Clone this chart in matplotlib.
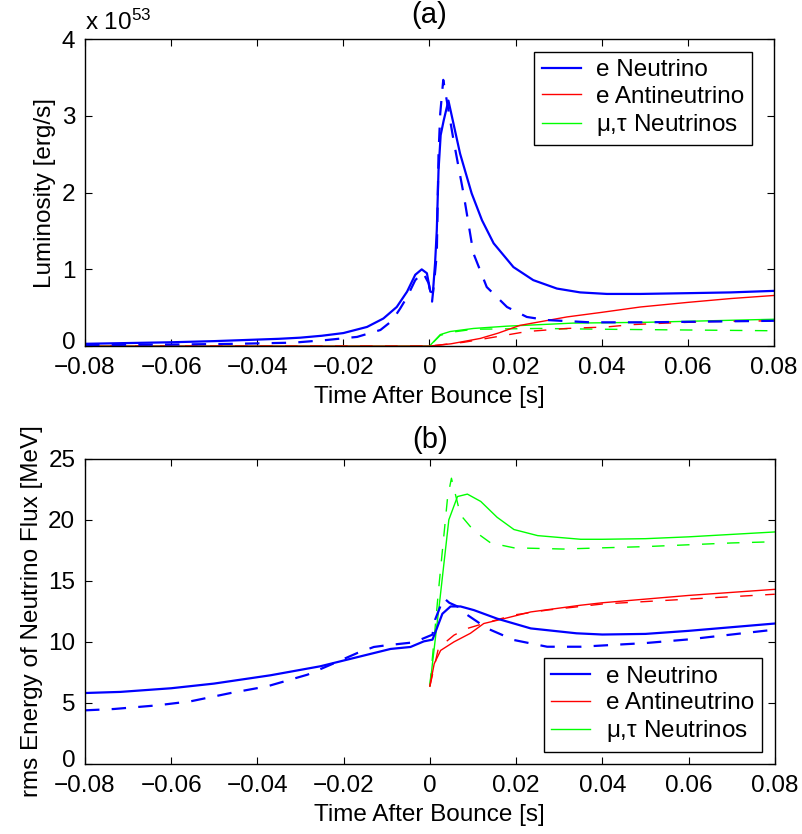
import numpy as np
import matplotlib
matplotlib.use('Agg')
import matplotlib.pyplot as plt
import matplotlib.transforms as mtransforms
from matplotlib.lines import Line2D

plt.rcParams['font.family'] = ['Liberation Sans', 'DejaVu Sans']
plt.rcParams['font.size'] = 17.5
plt.rcParams['mathtext.fontset'] = 'custom'
plt.rcParams['mathtext.rm'] = 'Liberation Sans'
plt.rcParams['mathtext.it'] = 'Liberation Sans'

# ---- panel (a): luminosity, units of 1e53 erg/s ----
ta_nue = [-0.08, -0.07, -0.06, -0.05, -0.04, -0.035, -0.03, -0.025, -0.020, -0.0145,
          -0.0107, -0.0076, -0.0052, -0.0033, -0.0018, -0.0006, 0.0002, 0.0008, 0.0013,
          0.0017, 0.0021, 0.0026, 0.0033, 0.0044, 0.0071, 0.0098, 0.0122, 0.0149, 0.0195,
          0.0241, 0.0296, 0.035, 0.0412, 0.049, 0.06, 0.07, 0.08]
la_nue = [0.03, 0.04, 0.05, 0.065, 0.085, 0.095, 0.11, 0.135, 0.17, 0.25,
          0.36, 0.51, 0.71, 0.93, 1.0, 0.95, 0.71, 0.70, 1.08,
          1.51, 2.29, 2.75, 2.94, 3.2, 2.51, 1.99, 1.64, 1.34, 1.03,
          0.86, 0.75, 0.70, 0.68, 0.68, 0.69, 0.70, 0.72]
ta_nue_d = [-0.08, -0.06, -0.045, -0.0316, -0.0238, -0.0168, -0.0114, -0.0087, -0.0068,
            -0.0052, -0.0033, -0.0015, -0.0002, 0.0006, 0.0012, 0.0017, 0.0021, 0.0025,
            0.0032, 0.0056, 0.0079, 0.0102, 0.0133, 0.018, 0.0226, 0.0272, 0.0373, 0.05,
            0.065, 0.08]
la_nue_d = [0.015, 0.02, 0.03, 0.045, 0.08, 0.12, 0.21, 0.33, 0.49,
            0.64, 0.86, 0.96, 0.82, 0.58, 0.9, 1.2, 2.5, 3.03,
            3.47, 2.68, 1.99, 1.21, 0.77, 0.51, 0.38, 0.34, 0.31, 0.31,
            0.32, 0.33]
ta_nueb = [-0.08, 0.0, 0.005, 0.0118, 0.016, 0.021, 0.0319, 0.04, 0.049, 0.06, 0.07, 0.08]
la_nueb = [0.0, 0.0, 0.03, 0.10, 0.17, 0.27, 0.38, 0.44, 0.51, 0.57, 0.62, 0.66]
ta_nueb_d = [-0.08, 0.0, 0.008, 0.0164, 0.0226, 0.0319, 0.0412, 0.047, 0.055, 0.065, 0.08]
la_nueb_d = [0.0, 0.0, 0.05, 0.13, 0.19, 0.23, 0.25, 0.28, 0.30, 0.32, 0.33]
ta_nux = [-0.08, 0.0, 0.0025, 0.0048, 0.0102, 0.018, 0.0334, 0.05, 0.065, 0.08]
la_nux = [0.0, 0.0, 0.15, 0.19, 0.23, 0.26, 0.30, 0.31, 0.33, 0.35]
ta_nux_d = [-0.08, 0.0, 0.0025, 0.005, 0.0102, 0.0257, 0.04, 0.06, 0.08]
la_nux_d = [0.0, 0.0, 0.14, 0.18, 0.22, 0.23, 0.22, 0.21, 0.20]

# ---- panel (b): rms energy [MeV] ----
tb_nue = [-0.08, -0.0718, -0.06, -0.0501, -0.037, -0.0254, -0.0192, -0.0091, -0.0045,
          -0.0014, 0.0006, 0.0015, 0.0029, 0.0048, 0.0071, 0.0102, 0.0156, 0.0234, 0.034,
          0.04, 0.05, 0.06, 0.07, 0.08]
eb_nue = [5.81, 5.9, 6.2, 6.58, 7.26, 8.0, 8.54, 9.42, 9.58,
          10.04, 10.18, 11.0, 12.3, 12.9, 12.9, 12.6, 11.9, 11.1, 10.7,
          10.6, 10.65, 10.9, 11.2, 11.5]
tb_nue_d = [-0.08, -0.0733, -0.0632, -0.0555, -0.0462, -0.0377, -0.0284, -0.023, -0.0168,
            -0.013, -0.0105, -0.0037, 0.0006, 0.0012, 0.0032, 0.0045, 0.0067, 0.0087,
            0.0133, 0.0195, 0.0272, 0.035, 0.04, 0.05, 0.06, 0.07, 0.08]
eb_nue_d = [4.39, 4.5, 4.8, 5.13, 5.81, 6.36, 7.31, 8.13, 9.09,
            9.58, 9.7, 9.96, 10.59, 11.8, 13.6, 13.2, 12.85, 12.2,
            11.1, 10.15, 9.6, 9.6, 9.7, 9.9, 10.2, 10.6, 11.0]
tb_nueb = [0.0, 0.001, 0.0025, 0.0056, 0.0094, 0.0125, 0.0172, 0.0234, 0.035, 0.04,
           0.05, 0.06, 0.07, 0.08]
eb_nueb = [6.36, 8.2, 9.3, 10.0, 10.7, 11.5, 11.9, 12.45, 13.0, 13.2,
           13.5, 13.8, 14.05, 14.3]
tb_nueb_d = [0.0, 0.002, 0.0056, 0.0087, 0.0125, 0.0195, 0.0272, 0.035, 0.04, 0.05,
             0.06, 0.07, 0.08]
eb_nueb_d = [6.36, 9.5, 10.55, 11.1, 11.5, 12.2, 12.6, 12.9, 13.1, 13.3,
             13.5, 13.7, 13.9]
tb_nux = [0.0, 0.0024, 0.0044, 0.0064, 0.0087, 0.0118, 0.0156, 0.0195, 0.025, 0.035,
          0.04, 0.05, 0.06, 0.07, 0.08]
eb_nux = [6.4, 13.7, 20.0, 21.9, 22.1, 21.5, 20.2, 19.2, 18.7, 18.4,
          18.4, 18.45, 18.6, 18.8, 19.0]
tb_nux_d = [0.0, 0.002, 0.0041, 0.005, 0.0071, 0.0102, 0.0141, 0.0195, 0.031, 0.04,
            0.05, 0.06, 0.07, 0.08]
eb_nux_d = [6.4, 14.2, 21.8, 23.4, 20.4, 19.1, 18.1, 17.7, 17.6, 17.7,
            17.8, 17.95, 18.1, 18.2]

labels = ['e Neutrino', 'e Antineutrino', r'$\mu$,$\tau$ Neutrinos']
colors = ['#0000ff', '#ff0000', '#00ff00']
widths = [1.6, 1.0, 1.0]
dashes = [(0, (6.5, 5.5)), (0, (9, 9)), (0, (9, 9))]

fig = plt.figure(figsize=(8.02, 8.34), dpi=100)
ax1 = fig.add_axes([0.106, 0.585, 0.859, 0.368])
ax2 = fig.add_axes([0.106, 0.084, 0.860, 0.366])

series_a = [(ta_nue, la_nue, ta_nue_d, la_nue_d),
            (ta_nueb, la_nueb, ta_nueb_d, la_nueb_d),
            (ta_nux, la_nux, ta_nux_d, la_nux_d)]
series_b = [(tb_nue, eb_nue, tb_nue_d, eb_nue_d),
            (tb_nueb, eb_nueb, tb_nueb_d, eb_nueb_d),
            (tb_nux, eb_nux, tb_nux_d, eb_nux_d)]

# draw green, red first so blue sits on top
for ax, series in [(ax1, series_a), (ax2, series_b)]:
    for i in [2, 1, 0]:
        t, v, td, vd = series[i]
        ax.plot(t, v, color=colors[i], lw=widths[i])
        ax.plot(td, vd, color=colors[i], lw=widths[i], ls=dashes[i])

handles = [Line2D([], [], color=colors[i], lw=widths[i]) for i in range(3)]
leg_kw = dict(fancybox=False, edgecolor='black', framealpha=1, handlelength=1.6,
              borderpad=0.3, labelspacing=0.18, handletextpad=0.65, borderaxespad=0)

ax1.set_xlim(-0.08, 0.08)
ax1.set_ylim(0, 4)
ax1.set_yticks([0, 1, 2, 3, 4])
ax1.set_title('(a)', pad=12)
ax1.set_ylabel('Luminosity [erg/s]')
ax1.set_xlabel('Time After Bounce [s]', labelpad=5)
ax1.text(0.0, 1.015, r'x 10$^{53}$', transform=ax1.transAxes,
         ha='left', va='bottom')
ax1.legend(handles, labels, loc='upper right', bbox_to_anchor=(0.968, 0.958), **leg_kw)

ax2.set_xlim(-0.08, 0.08)
ax2.set_ylim(0, 25)
ax2.set_yticks([0, 5, 10, 15, 20, 25])
ax2.set_title('(b)', pad=8)
ax2.set_ylabel('rms Energy of Neutrino Flux [MeV]')
ax2.set_xlabel('Time After Bounce [s]', labelpad=5)
ax2.legend(handles, labels, loc='lower right', bbox_to_anchor=(0.981, 0.04), **leg_kw)

for ax in [ax1, ax2]:
    ax.set_xticks(np.arange(-0.08, 0.081, 0.02))
    ax.set_xticklabels(['\u22120.08', '\u22120.06', '\u22120.04', '\u22120.02', '0',
                        '0.02', '0.04', '0.06', '0.08'])
    ax.tick_params(direction='in', top=True, right=True, length=5, width=0.8)
    ax.tick_params(axis='x', pad=8)
    ax.tick_params(axis='y', pad=7)
    for s in ax.spines.values():
        s.set_linewidth(1.0)
    # nudge the bottom "0" up a little so it clears the -0.08 label
    lab0 = ax.yaxis.get_major_ticks()[0].label1
    lab0.set_transform(lab0.get_transform() +
                       mtransforms.ScaledTranslation(0, 4 / 72, fig.dpi_scale_trans))

fig.savefig('out.png', dpi=100)
